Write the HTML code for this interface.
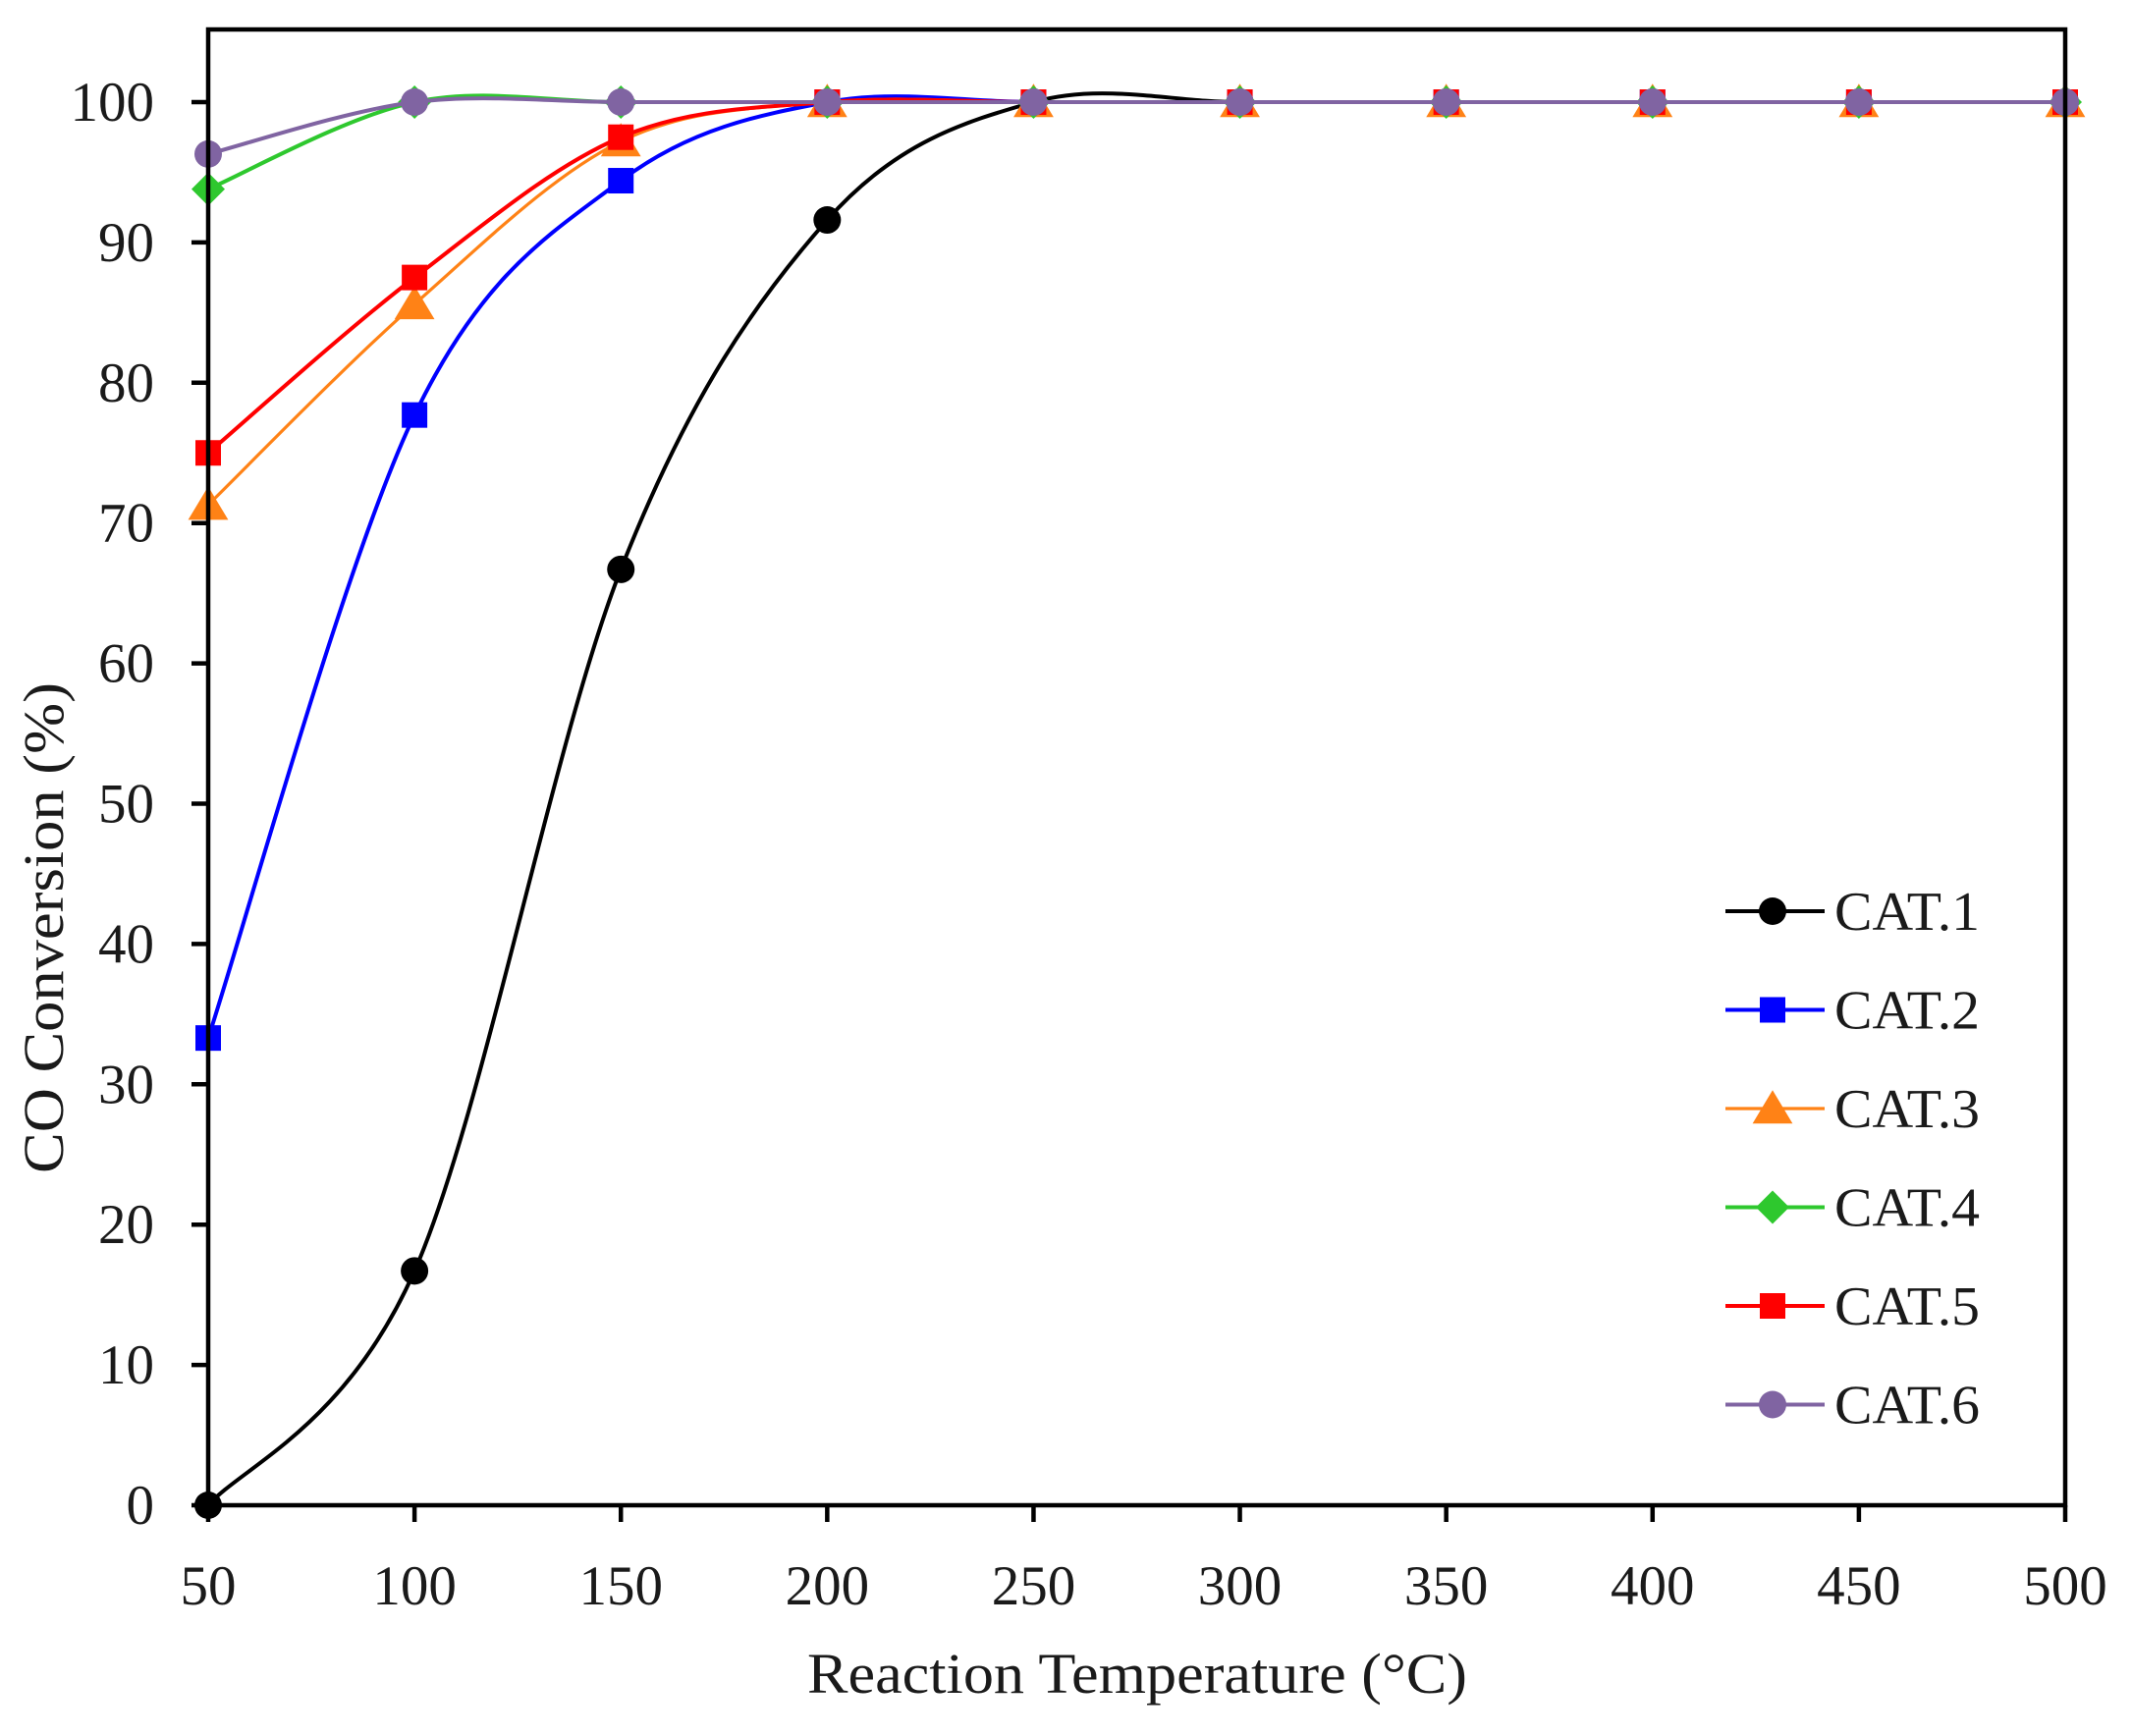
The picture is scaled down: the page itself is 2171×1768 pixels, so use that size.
<!DOCTYPE html>
<html><head><meta charset="utf-8"><style>
html,body{margin:0;padding:0;background:#fff;}
svg{display:block;}
text{font-family:"Liberation Serif",serif;fill:#1a1a1a;}
</style></head><body>
<svg id="chart" width="2171" height="1768" viewBox="0 0 2171 1768" xmlns="http://www.w3.org/2000/svg">
<g id="grid"></g>
<g id="series"></g>
<g id="axes"></g>
<g id="legend"></g>
<text x="1158" y="1724" font-size="58" text-anchor="middle" textLength="672" lengthAdjust="spacingAndGlyphs">Reaction Temperature (°C)</text>
<text x="0" y="0" font-size="58" text-anchor="middle" textLength="500" lengthAdjust="spacingAndGlyphs" transform="translate(64,945) rotate(-90)">CO Conversion (%)</text>
</svg>
<script>
const temps = [50,100,150,200,250,300,350,400,450,500];
const xTicks = [50,100,150,200,250,300,350,400,450,500];
const yTicks = [0,10,20,30,40,50,60,70,80,90,100];
const seriesNames = ["CAT.1","CAT.2","CAT.3","CAT.4","CAT.5","CAT.6"];
const cat1 = [0,16.7,66.7,91.6,100,100,100,100,100,100];
const cat2 = [33.3,77.7,94.4,100,100,100,100,100,100,100];
const cat3 = [71.3,85.6,97.2,100,100,100,100,100,100,100];
const cat4 = [93.8,100,100,100,100,100,100,100,100,100];
const cat5 = [75,87.5,97.5,100,100,100,100,100,100,100];
const cat6 = [96.3,100,100,100,100,100,100,100,100,100];

const NS="http://www.w3.org/2000/svg";
const L=212,R=2103,T=30,B=1533;
const X0=50,X1=500,YMAX=100*(B-T)/(B-104);
function xs(v){return L+(v-X0)/(X1-X0)*(R-L);}
function ys(v){return B-v/YMAX*(B-T);}
function mk(tag,attrs,parent){const e=document.createElementNS(NS,tag);for(const k in attrs)e.setAttribute(k,attrs[k]);parent.appendChild(e);return e;}

const styles=[
 {c:"#000000",m:"circle",s:14,w:4},
 {c:"#0000ff",m:"square",s:13,w:4},
 {c:"#ff8216",m:"triangle",s:17,w:3.2},
 {c:"#2ec82e",m:"diamond",s:17,w:4},
 {c:"#ff0000",m:"square",s:13,w:4},
 {c:"#8064a2",m:"circle",s:14,w:4}
];
const data=[cat1,cat2,cat3,cat4,cat5,cat6];

function marker(g,type,x,y,s,c){
 let e;
 if(type==="circle") e=mk("circle",{cx:x,cy:y,r:s,fill:c},g);
 else if(type==="square") e=mk("rect",{x:x-s,y:y-s,width:2*s,height:2*s,fill:c},g);
 else if(type==="triangle") e=mk("polygon",{points:`${x},${y-s*1.1} ${x+s*1.2},${y+s*0.9} ${x-s*1.2},${y+s*0.9}`,fill:c},g);
 else e=mk("polygon",{points:`${x},${y-s} ${x+s},${y} ${x},${y+s} ${x-s},${y}`,fill:c},g);
 return e;
}
function smoothPath(pts){
 let d=`M${pts[0][0]},${pts[0][1]}`;
 for(let i=0;i<pts.length-1;i++){
  const p0=pts[Math.max(0,i-1)],p1=pts[i],p2=pts[i+1],p3=pts[Math.min(pts.length-1,i+2)];
  const c1=[p1[0]+(p2[0]-p0[0])/6,p1[1]+(p2[1]-p0[1])/6];
  const c2=[p2[0]-(p3[0]-p1[0])/6,p2[1]-(p3[1]-p1[1])/6];
  d+=` C${c1[0]},${c1[1]} ${c2[0]},${c2[1]} ${p2[0]},${p2[1]}`;
 }
 return d;
}
const sg=document.getElementById("series");
data.forEach((vals,si)=>{
 const st=styles[si];
 const g=mk("g",{},sg);
 
 
 const pts=vals.map((v,i)=>[xs(temps[i]),ys(v)]);
 const p=mk("path",{d:smoothPath(pts),fill:"none",stroke:st.c,"stroke-width":st.w},g);
 
 
 pts.forEach((pt,i)=>{
  const m=marker(g,st.m,pt[0],pt[1],st.s,st.c);
  
  
 });
});
const ax=document.getElementById("axes");
const frame=mk("rect",{x:L,y:T,width:R-L,height:B-T,fill:"none",stroke:"#000","stroke-width":4.5},ax);


xTicks.forEach(v=>{
 const t=mk("line",{x1:xs(v),x2:xs(v),y1:B,y2:B+17,stroke:"#000","stroke-width":4.5},ax);
 
 
 const lb=mk("text",{x:xs(v),y:1634,"font-size":57,"text-anchor":"middle"},ax);
 lb.textContent=v;
 
 
});
yTicks.forEach(v=>{
 const t=mk("line",{x1:L-17,x2:L,y1:ys(v),y2:ys(v),stroke:"#000","stroke-width":4.5},ax);
 
 
 const lb=mk("text",{x:157,y:ys(v)+19,"font-size":57,"text-anchor":"end"},ax);
 lb.textContent=v;
 
 
});
const lg=document.getElementById("legend");
seriesNames.forEach((n,i)=>{
 const st=styles[i];const y=928+i*100.5;
 const g=mk("g",{},lg);
 
 
 mk("line",{x1:1757,x2:1858,y1:y,y2:y,stroke:st.c,"stroke-width":st.w},g);
 marker(g,st.m,1805,y,st.s,st.c);
 const t=mk("text",{x:1868,y:y+19,"font-size":56,textLength:148,lengthAdjust:"spacingAndGlyphs"},g);
 t.textContent=n;
});
</script>
</body></html>
